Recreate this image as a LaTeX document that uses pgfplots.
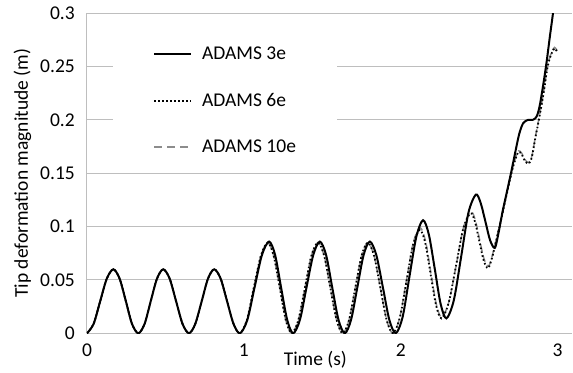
\documentclass[border=0pt]{standalone}
\usepackage{pgfplots}
\pgfplotsset{compat=1.18}
\usepackage{fontspec}
\setmainfont{Carlito}
\newcommand\fs{\fontsize{19.5bp}{22bp}\selectfont}
\definecolor{gridgray}{RGB}{190,190,190}
\definecolor{dashgray}{RGB}{140,140,140}
\begin{document}
\begin{tikzpicture}
\begin{axis}[
  name=ax,
  scale only axis, width=484.8bp, height=320bp,
  xmin=0, xmax=3.09, ymin=0, ymax=0.3,
  xtick={0,1,2,3}, xticklabels={0,1,2,3},
  ytick={0,0.05,0.1,0.15,0.2,0.25,0.3},
  yticklabels={0,0.05,0.1,0.15,0.2,0.25,0.3},
  axis x line=bottom, axis y line=left,
  axis line style={-, draw=gridgray, line width=1bp},
  major tick length=0pt,
  ymajorgrids, grid style={gridgray, line width=1bp},
  tick label style={font=\fs},
  yticklabel style={anchor=east, inner sep=0pt, xshift=-12bp},
  xticklabel style={anchor=north, inner sep=0pt, yshift=-10bp},
  xlabel={Time (s)},
  ylabel={Tip deformation magnitude (m)},
  every axis x label/.style={at={(axis description cs:0.471,0)}, anchor=base, yshift=-32bp, font=\fs},
  every axis y label/.style={at={(axis description cs:0,0.5)}, anchor=base, xshift=-59bp, rotate=90, font=\fs},
  legend image code/.code={\draw[#1] (0bp,0bp) -- (37bp,0bp);},
  legend cell align=left,
  legend style={at={(rel axis cs:0.0536,0.935)}, anchor=north west, draw=none, fill=white,
    font=\fs, inner xsep=40bp, inner ysep=12bp, row sep=30bp,
    nodes={inner sep=1bp},
    /tikz/every odd column/.append style={column sep=9bp}},
]
% ADAMS 10e (dashed gray)
\addplot[forget plot, smooth, dashgray, line width=1.5bp, dash pattern=on 7bp off 4bp] coordinates {
(0,0) (0.042,0.0088) (0.084,0.030) (0.126,0.0512) (0.168,0.060) (0.208,0.0512) (0.248,0.030) (0.287,0.0088) (0.327,0)
(0.367,0.0088) (0.406,0.030) (0.446,0.0512) (0.486,0.060) (0.527,0.0512) (0.568,0.030) (0.609,0.0088) (0.650,0)
(0.690,0.0088) (0.731,0.030) (0.771,0.0512) (0.811,0.060) (0.852,0.0512) (0.893,0.030) (0.934,0.0088) (0.975,0)
(1.019,0.0124) (1.063,0.0425) (1.108,0.0726) (1.152,0.085) (1.190,0.0726) (1.229,0.0425) (1.267,0.0124) (1.305,0)
(1.347,0.0124) (1.389,0.0425) (1.430,0.0726) (1.472,0.085) (1.512,0.0726) (1.551,0.0425) (1.591,0.0124) (1.630,0)
(1.670,0.0124) (1.710,0.0425) (1.750,0.0726) (1.790,0.085) (1.830,0.0726) (1.870,0.0425) (1.910,0.0124) (1.950,0)
(1.993,0.0145) (2.036,0.0495) (2.079,0.0845) (2.123,0.099) (2.158,0.0862) (2.192,0.0565) (2.227,0.0268) (2.261,0.015)
(2.307,0.0296) (2.354,0.0645) (2.400,0.0994) (2.446,0.114) (2.474,0.1066) (2.502,0.0880) (2.530,0.0700) (2.558,0.063)
(2.58,0.071) (2.61,0.089) (2.64,0.108) (2.67,0.128) (2.705,0.151) (2.73,0.164) (2.75,0.171) (2.77,0.169) (2.79,0.163) (2.815,0.160) (2.835,0.166) (2.86,0.186) (2.88,0.201) (2.91,0.226) (2.936,0.251) (2.96,0.263) (2.98,0.268) (3.0,0.264)
};
% ADAMS 6e (dotted)
\addplot[forget plot, smooth, black, line width=1.8bp, dash pattern=on 1.6bp off 2.4bp] coordinates {
(0,0) (0.042,0.0088) (0.084,0.030) (0.126,0.0512) (0.168,0.060) (0.208,0.0512) (0.248,0.030) (0.287,0.0088) (0.327,0)
(0.367,0.0088) (0.406,0.030) (0.446,0.0512) (0.486,0.060) (0.527,0.0512) (0.568,0.030) (0.609,0.0088) (0.650,0)
(0.690,0.0088) (0.731,0.030) (0.771,0.0512) (0.811,0.060) (0.852,0.0512) (0.893,0.030) (0.934,0.0088) (0.975,0)
(1.019,0.0124) (1.063,0.0425) (1.108,0.0726) (1.152,0.085) (1.190,0.0726) (1.229,0.0425) (1.267,0.0124) (1.305,0)
(1.347,0.0124) (1.389,0.0425) (1.430,0.0726) (1.472,0.085) (1.512,0.0726) (1.551,0.0425) (1.591,0.0124) (1.630,0)
(1.670,0.0124) (1.710,0.0425) (1.750,0.0726) (1.790,0.085) (1.830,0.0726) (1.870,0.0425) (1.910,0.0124) (1.950,0)
(1.993,0.0142) (2.036,0.0485) (2.078,0.0828) (2.121,0.097) (2.156,0.0848) (2.190,0.0555) (2.225,0.0262) (2.259,0.014)
(2.305,0.0284) (2.352,0.0633) (2.398,0.0981) (2.444,0.1125) (2.472,0.105) (2.500,0.0868) (2.528,0.0685) (2.556,0.061)
(2.58,0.070) (2.61,0.088) (2.64,0.107) (2.67,0.127) (2.705,0.150) (2.73,0.163) (2.75,0.170) (2.77,0.168) (2.79,0.162) (2.815,0.159) (2.835,0.165) (2.86,0.185) (2.88,0.2) (2.91,0.225) (2.936,0.25) (2.96,0.262) (2.98,0.267) (3.0,0.263)
};
% ADAMS 3e (solid)
\addplot[forget plot, smooth, black, line width=2bp] coordinates {
(0,0) (0.042,0.0088) (0.084,0.030) (0.126,0.0512) (0.168,0.060) (0.208,0.0512) (0.248,0.030) (0.287,0.0088) (0.327,0)
(0.367,0.0088) (0.406,0.030) (0.446,0.0512) (0.486,0.060) (0.527,0.0512) (0.568,0.030) (0.609,0.0088) (0.650,0)
(0.690,0.0088) (0.731,0.030) (0.771,0.0512) (0.811,0.060) (0.852,0.0512) (0.893,0.030) (0.934,0.0088) (0.975,0)
(1.022,0.0126) (1.068,0.043) (1.115,0.0734) (1.161,0.086) (1.199,0.0734) (1.237,0.043) (1.276,0.0126) (1.314,0)
(1.357,0.0126) (1.399,0.043) (1.442,0.0734) (1.484,0.086) (1.524,0.0734) (1.563,0.043) (1.603,0.0126) (1.643,0)
(1.683,0.0126) (1.723,0.043) (1.763,0.0734) (1.803,0.086) (1.844,0.0734) (1.886,0.043) (1.927,0.0126) (1.968,0)
(2.012,0.0155) (2.055,0.053) (2.099,0.0905) (2.142,0.106) (2.179,0.0925) (2.217,0.060) (2.254,0.0275) (2.291,0.014)
(2.338,0.031) (2.385,0.072) (2.431,0.113) (2.478,0.130) (2.508,0.1227) (2.539,0.105) (2.569,0.0873) (2.599,0.080)
(2.62,0.092) (2.65,0.115) (2.68,0.135) (2.705,0.152) (2.73,0.17) (2.755,0.187) (2.78,0.197) (2.81,0.2) (2.84,0.2) (2.865,0.203) (2.885,0.213) (2.91,0.235) (2.93,0.255) (2.95,0.278) (2.97,0.3) (2.99,0.325)
};
\addlegendimage{black, line width=2bp}
\addlegendentry{ADAMS 3e}
\addlegendimage{black, line width=1.8bp, dash pattern=on 1.6bp off 2.4bp}
\addlegendentry{ADAMS 6e}
\addlegendimage{dashgray, line width=1.5bp, dash pattern=on 8bp off 5bp}
\addlegendentry{ADAMS 10e}
\end{axis}
\path (ax.south west) ++(-87bp,-39.7bp) coordinate (bl);
\path (ax.north east) ++(1.2bp,13.3bp) coordinate (tr);
\path (bl) rectangle (tr);
\end{tikzpicture}
\end{document}
